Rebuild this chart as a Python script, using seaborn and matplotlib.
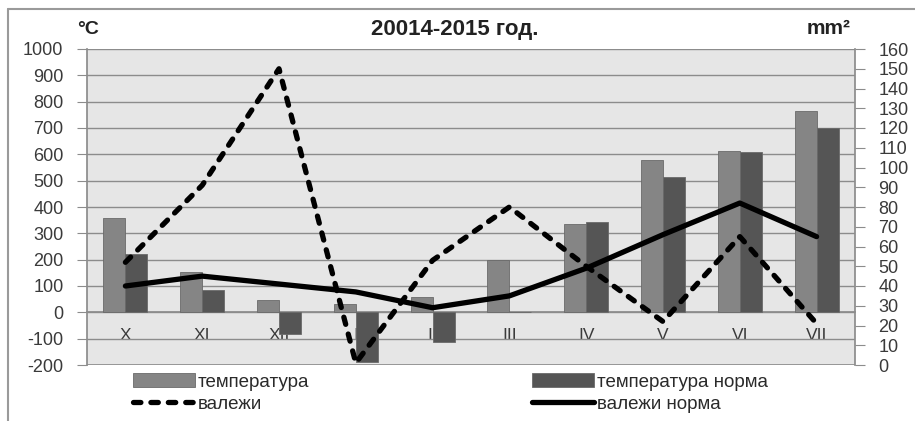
import numpy as np
import pandas as pd
import matplotlib
matplotlib.use("Agg")
import matplotlib.pyplot as plt
from matplotlib.patches import Patch
from matplotlib.lines import Line2D
from matplotlib.ticker import MultipleLocator, FixedLocator
import seaborn as sns

# Months of the agricultural year, October to July
months = ["X", "XI", "XII", "I", "II", "III", "IV", "V", "VI", "VII"]
# Temperature sums, °C
temp = [357, 153, 46, 30, 60, 198, 335, 578, 611, 763]
temp_norm = [220, 85, -84, -190, -113, 0, 343, 514, 607, 700]
# Precipitation, mm
precip = [52, 91, 150, 1, 53, 80, 50, 22, 65, 21]
precip_norm = [40, 45, 41, 37, 29, 35, 49, 66, 82, 65]

label_temp = "температура"
label_temp_norm = "температура норма"
label_precip = "валежи"
label_precip_norm = "валежи норма"

sns.set_theme(style="white")
plt.rcParams["font.family"] = ["Liberation Sans", "DejaVu Sans"]
plt.rcParams["axes.unicode_minus"] = False

bars = pd.DataFrame({
    "month": months * 2,
    "value": temp + temp_norm,
    "series": [label_temp] * len(months) + [label_temp_norm] * len(months),
})
lines = pd.DataFrame({
    "pos": list(range(len(months))) * 2,
    "value": precip + precip_norm,
    "series": [label_precip] * len(months) + [label_precip_norm] * len(months),
})

c_light = "#858585"
c_dark = "#555555"
grid_c = "#8c8c8c"
txt_c = "#3a3a3a"
LW = 3.8
DASH = (1.4, 1.9)

fig = plt.figure(figsize=(9.15, 4.21), dpi=100)
ax = fig.add_axes([87 / 915, 1 - 365 / 421, (855 - 87) / 915, (365 - 49) / 421])
ax.set_facecolor("#e6e6e6")

sns.barplot(data=bars, x="month", y="value", hue="series",
            palette=[c_light, c_dark], width=0.575, gap=0,
            edgecolor="#6a6a6a", linewidth=0.6, legend=False, ax=ax, zorder=3)

ax.set_xlim(-0.5, len(months) - 0.5)
ax.set_ylim(-200, 1000)
ax.yaxis.set_major_locator(MultipleLocator(100))
ax.grid(axis="y", color=grid_c, linewidth=1.0, zorder=0)
ax.set_axisbelow(True)
ax.set_xlabel("")
ax.set_ylabel("")

# Category axis sits on the zero line; labels just below it
ax.spines["bottom"].set_position(("data", 0))
ax.spines["bottom"].set_color(grid_c)
ax.spines["top"].set_visible(False)
ax.spines["left"].set_color(grid_c)
ax.spines["right"].set_visible(False)
ax.set_xticks(range(len(months)))
ax.set_xticklabels(months)
ax.xaxis.set_minor_locator(FixedLocator(np.arange(0.5, len(months) - 0.5, 1)))
ax.tick_params(axis="x", which="major", length=0, pad=11, labelsize=12.5,
               labelcolor=txt_c)
ax.tick_params(axis="x", which="minor", length=4, width=0.8, color=grid_c,
               direction="out")
ax.tick_params(axis="y", length=7, width=0.8, color=grid_c, labelsize=13,
               labelcolor=txt_c, pad=10, left=True)
ax.axhline(-200, color=grid_c, linewidth=1.2, zorder=1)

ax2 = ax.twinx()
sns.lineplot(data=lines[lines.series == label_precip], x="pos", y="value",
             color="black", linewidth=LW, ax=ax2, legend=False, zorder=4)
sns.lineplot(data=lines[lines.series == label_precip_norm], x="pos", y="value",
             color="black", linewidth=LW, ax=ax2, legend=False, zorder=5)
dash_line = ax2.lines[0]
dash_line.set_dashes(DASH)
dash_line.set_dash_capstyle("round")
ax2.lines[1].set_solid_capstyle("round")
ax2.set_ylim(0, 160)
ax2.yaxis.set_major_locator(MultipleLocator(10))
ax2.set_xlim(-0.5, len(months) - 0.5)
ax2.set_xlabel("")
ax2.set_ylabel("")
for s in ("top", "left", "bottom"):
    ax2.spines[s].set_visible(False)
ax2.spines["right"].set_color(grid_c)
ax2.tick_params(axis="y", length=7, width=0.8, color=grid_c, labelsize=13,
                labelcolor=txt_c, pad=10, right=True)
ax2.grid(False)

# Titles and unit labels
fig.text(455 / 915, 1 - 29 / 421, "20014-2015 год.", ha="center", va="center",
         fontsize=16, fontweight="bold", color="#222222")
fig.text(77 / 915, 1 - 29 / 421, "°C", ha="left", va="center",
         fontsize=14, fontweight="bold", color="#222222")
fig.text(851 / 915, 1 - 29 / 421, "mm²", ha="right", va="center",
         fontsize=15, fontweight="bold", color="#222222")

handles = [
    Patch(facecolor=c_light, edgecolor="#6a6a6a", linewidth=0.6),
    Line2D([], [], color="black", linewidth=LW, dashes=DASH,
           dash_capstyle="round"),
    Patch(facecolor=c_dark, edgecolor="#6a6a6a", linewidth=0.6),
    Line2D([], [], color="black", linewidth=LW, solid_capstyle="round"),
]
labels = [label_temp, label_precip, label_temp_norm, label_precip_norm]
fig.legend(handles, labels, ncol=2, loc="upper left",
           bbox_to_anchor=(133 / 915, 1 - 373 / 421), frameon=False,
           prop={"size": 13.5}, labelcolor="#2a2a2a", handlelength=3.3,
           handleheight=0.8, handletextpad=0.15, columnspacing=11.9,
           labelspacing=0.25, borderpad=0, borderaxespad=0)

# Outer frame of the chart
fig.add_artist(Line2D([8 / 915, 1.0], [1 - 9 / 421, 1 - 9 / 421],
                      transform=fig.transFigure, color="#9a9a9a", linewidth=1.5))
fig.add_artist(Line2D([8 / 915, 8 / 915], [0.0, 1 - 9 / 421],
                      transform=fig.transFigure, color="#9a9a9a", linewidth=1.5))

fig.savefig("out.png", dpi=100, facecolor="white")
